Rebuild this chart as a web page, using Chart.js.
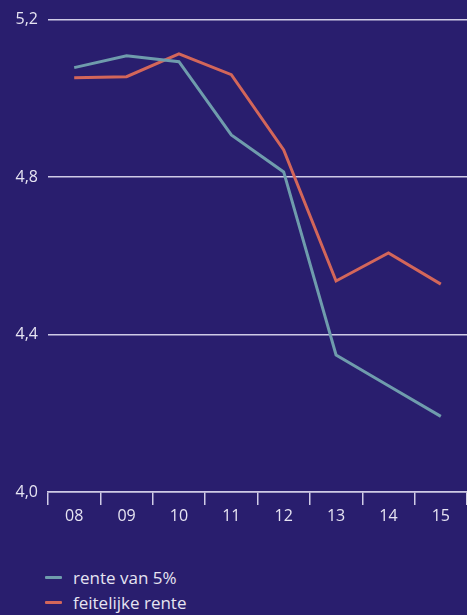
<!DOCTYPE html>
<html><head><meta charset="utf-8">
<script src="https://cdn.jsdelivr.net/npm/chart.js@4/dist/chart.umd.min.js"></script>
<style>
html,body{margin:0;padding:0;background:#291e6e;width:467px;height:615px;overflow:hidden;font-family:"Open Sans",sans-serif;}
#wrap{position:absolute;left:0;top:0;width:467px;height:532px;}
#legend{position:absolute;left:45px;top:565px;color:#e6e4f2;font-size:17px;line-height:25px;}
#legend div{display:flex;align-items:center;}
#legend span.sw{display:inline-block;width:17px;height:3px;margin-right:11px;border-radius:1px;}
</style></head>
<body>
<div id="wrap"><canvas id="c"></canvas></div>
<div id="legend"></div>
<script>
const categories = ["08","09","10","11","12","13","14","15"];
const seriesNames = ["rente van 5%","feitelijke rente"];
const rente5 = [5.078,5.108,5.093,4.907,4.813,4.348,4.27,4.192];
const feitelijk = [5.052,5.055,5.113,5.06,4.869,4.536,4.607,4.528];
const colors = ["#6f9cad","#d3665a"];
const txt = "#e6e4f2";
const grid = "#cfcbe6";

const ctx = document.getElementById('c');
new Chart(ctx,{
  type:'line',
  data:{labels:categories,datasets:[
    {label:seriesNames[0],data:rente5,borderColor:colors[0],borderWidth:3,pointRadius:0,tension:0},
    {label:seriesNames[1],data:feitelijk,borderColor:colors[1],borderWidth:3,pointRadius:0,tension:0}
  ]},
  options:{
    responsive:true,maintainAspectRatio:false,animation:false,
    layout:{padding:{top:12,right:0,left:0,bottom:0}},
    plugins:{legend:{display:false},tooltip:{enabled:false}},
    scales:{
      x:{offset:true,
        grid:{offset:true,drawOnChartArea:false,drawTicks:true,tickLength:13,color:grid,lineWidth:1.5},
        border:{display:true,color:grid,width:1.5},
        ticks:{color:txt,font:{family:"Open Sans",size:16},padding:2},
        afterFit(s){s.height=40;}
      },
      y:{min:4.0,max:5.2,
        ticks:{stepSize:0.4,color:txt,font:{family:"Open Sans",size:16},padding:10,
          callback:v=>v.toFixed(1).replace('.',',')},
        grid:{color:grid,lineWidth:1.5,drawTicks:false},
        border:{display:false},
        afterFit(s){s.width=48;}
      }
    }
  }
});
const lg=document.getElementById('legend');
seriesNames.forEach((n,i)=>{const d=document.createElement('div');d.innerHTML='<span class="sw" style="background:'+colors[i]+'"></span>'+n;lg.appendChild(d);});
</script>
</body></html>
